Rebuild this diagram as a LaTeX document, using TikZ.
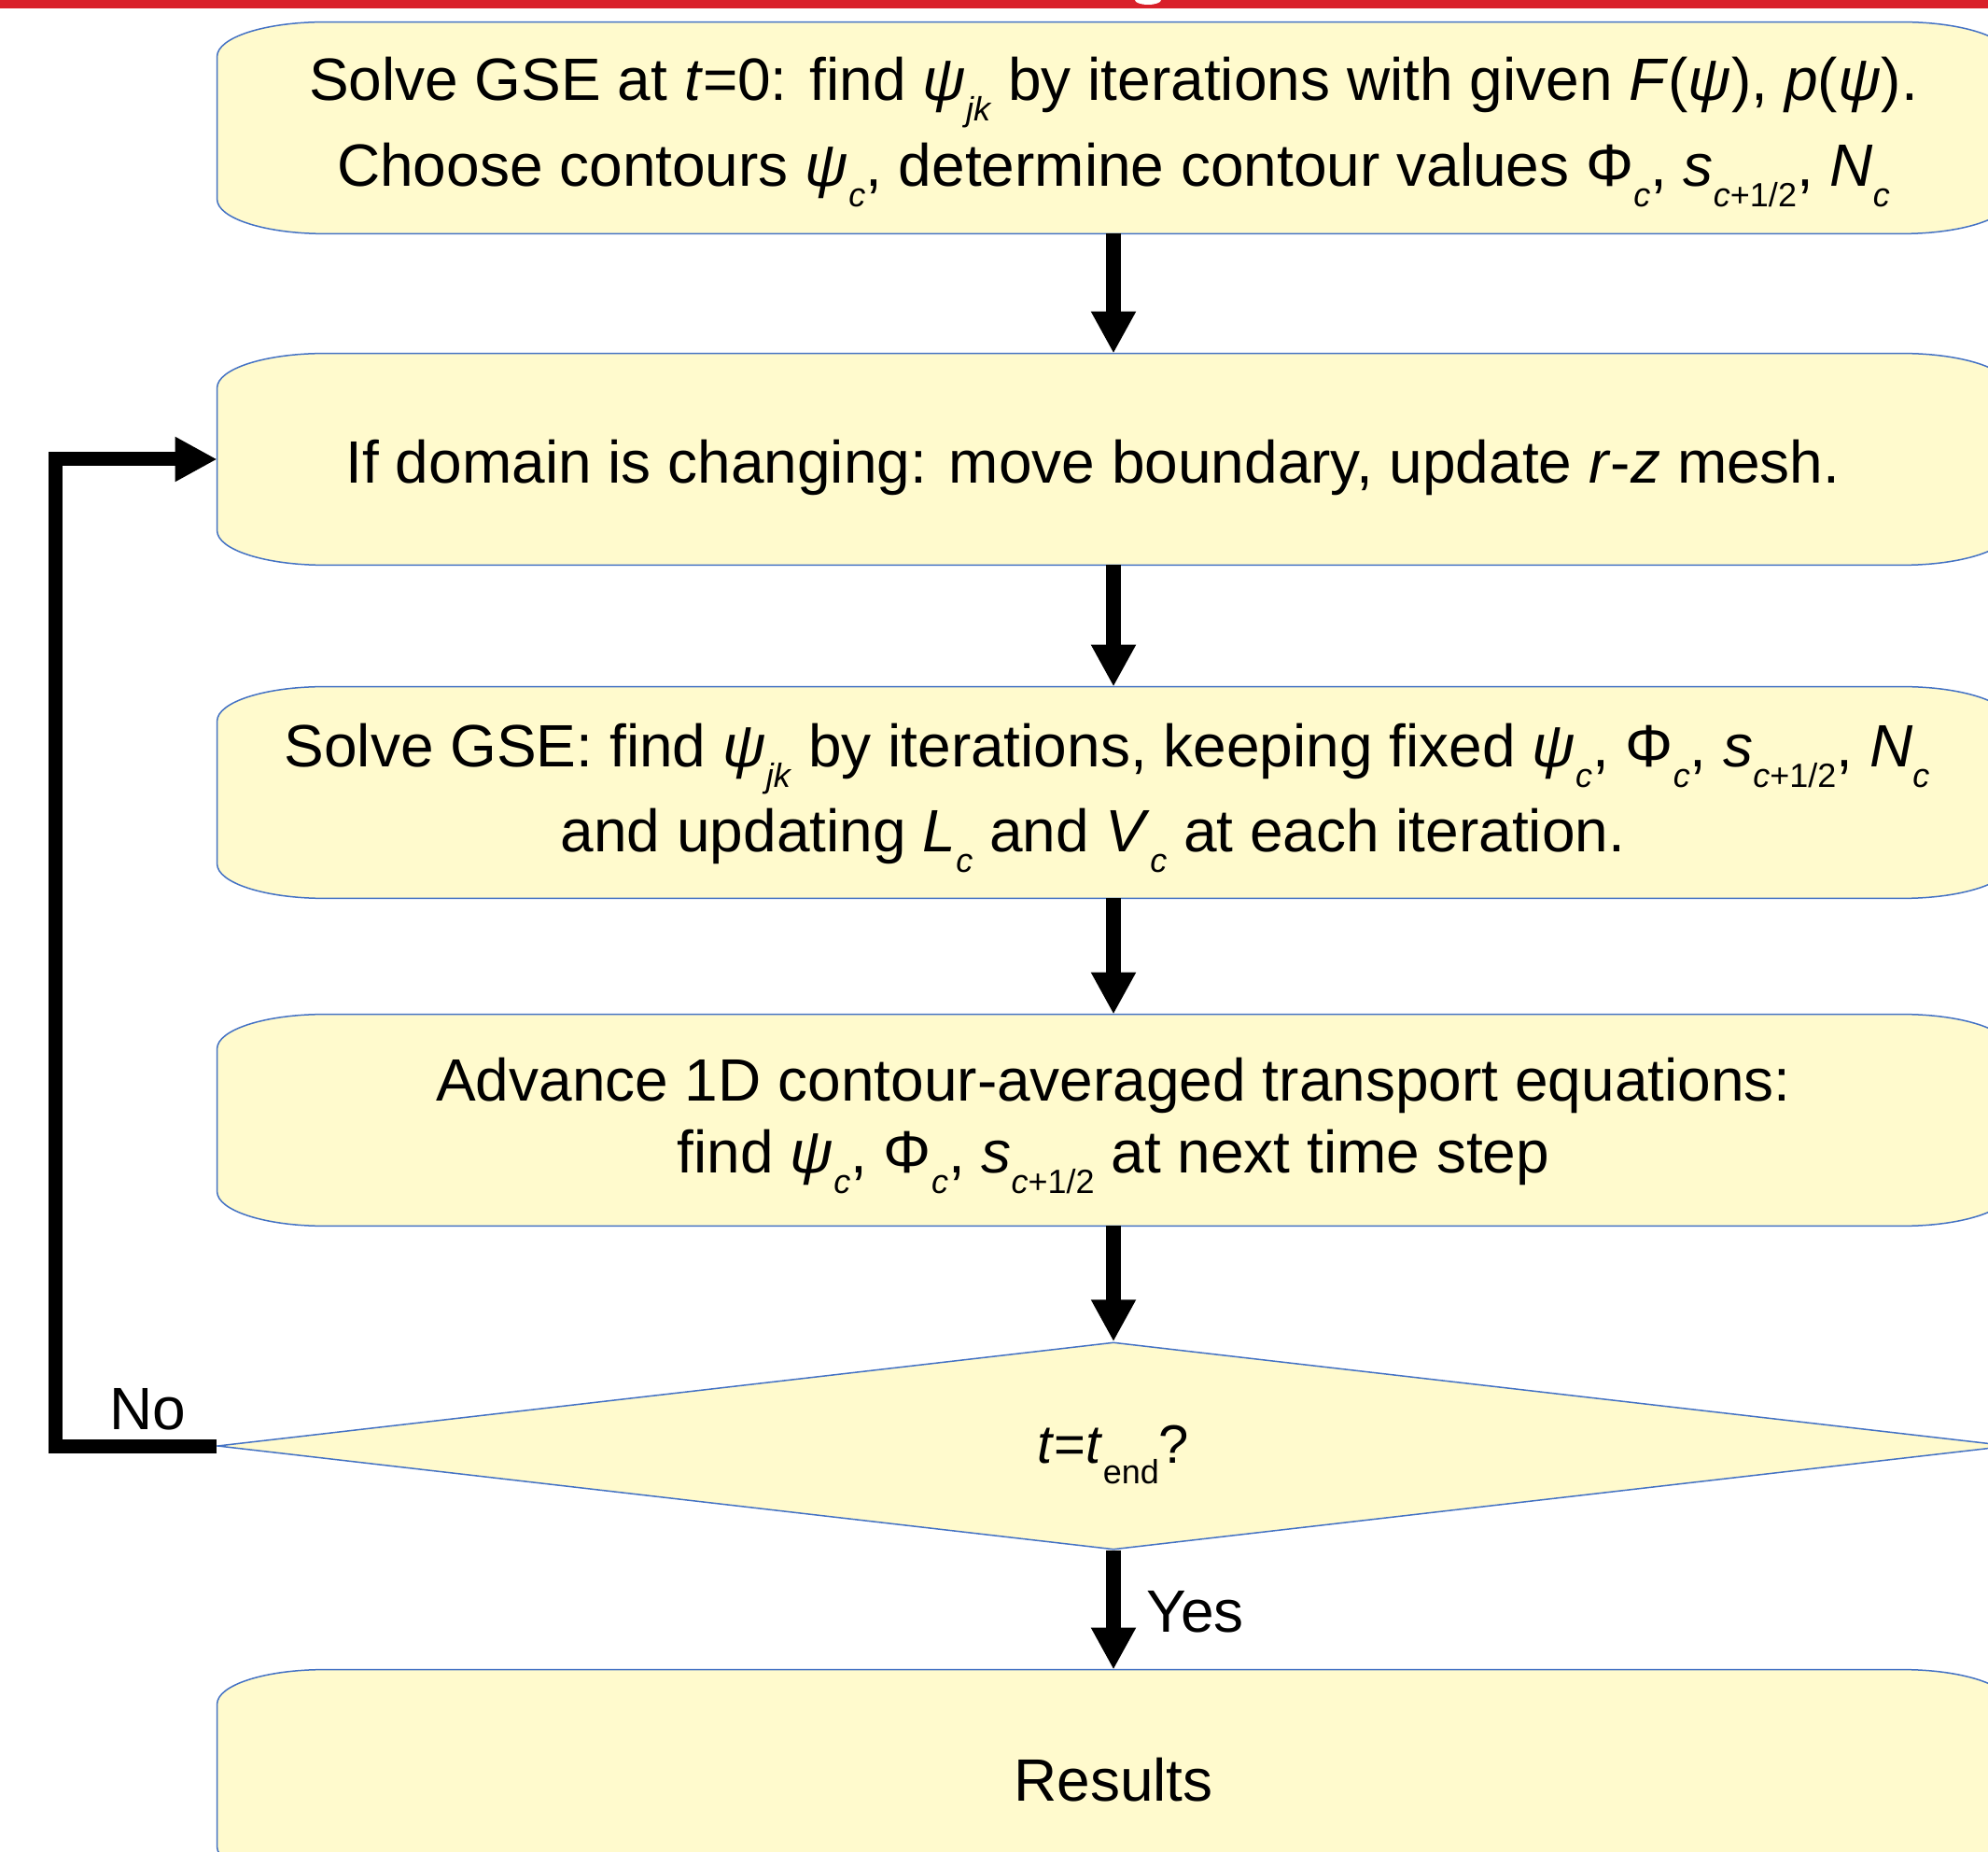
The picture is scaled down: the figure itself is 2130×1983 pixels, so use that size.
\documentclass[tikz,border=0pt]{standalone}
\usepackage{fontspec}
\setmainfont{Liberation Sans}
\usetikzlibrary{arrows.meta,calc,shapes.geometric}
\definecolor{boxfill}{RGB}{255,250,205}
\definecolor{boxline}{RGB}{68,114,196}
\definecolor{topred}{RGB}{217,32,42}
\newcommand\sbs[1]{\raisebox{-11pt}{\fontsize{18pt}{18pt}\selectfont #1}}
\newcommand\ebox[1]{%
  \path[eboxstyle] ($(#1.north west)+(115,0)$) -- ($(#1.north east)+(-115,0)$)
    arc[start angle=90,end angle=0,x radius=57.5pt,y radius=18.5pt]
    -- ($(#1.south east)+(0,37)$)
    arc[start angle=0,end angle=-90,x radius=57.5pt,y radius=18.5pt]
    -- ($(#1.south west)+(115,0)$)
    arc[start angle=270,end angle=180,x radius=57.5pt,y radius=18.5pt]
    -- ($(#1.north west)+(0,-37)$)
    arc[start angle=180,end angle=90,x radius=57.5pt,y radius=18.5pt] -- cycle;}
\tikzset{
  eboxstyle/.style={draw=boxline,fill=boxfill,line width=0.75pt},
  boxnode/.style={rectangle,inner sep=0pt,minimum width=960pt,minimum height=113pt},
  txt/.style={anchor=base,inner sep=0pt,font=\fontsize{32pt}{38pt}\selectfont},
  flowarrow/.style={line width=8pt,-{Triangle[length=22.5pt,width=22.5pt]}},
  looparrow/.style={line width=7.5pt,line join=miter,-{Triangle[length=22.5pt,width=22.5pt]}}
}
\begin{document}
\begin{tikzpicture}[x=0.5pt,y=0.5pt]
\useasboundingbox (0,0) rectangle (2130,1983);
\clip (0,0) rectangle (2130,1983);
\fill[white] (0,0) rectangle (2130,1983);
\fill[topred] (0,1974) rectangle (2130,1983);
\fill[white] (1230,1983) ellipse [x radius=7pt,y radius=2.5pt];

\node[boxnode] (b1) at (1193,1846) {};
\node[boxnode] (b2) at (1193,1491) {};
\node[boxnode] (b3) at (1193,1134) {};
\node[boxnode] (b4) at (1193,783) {};
\node[boxnode] (res) at (1193,81) {};
\ebox{b1}\ebox{b2}\ebox{b3}\ebox{b4}\ebox{res}
\node[diamond,draw=boxline,fill=boxfill,line width=0.75pt,inner sep=0pt,
  minimum width=960pt,minimum height=111pt] (d) at (1193,434) {};

\node[txt] (t1a) at (1193,1875) {Solve GSE at \textit{t}=0: find \textit{ψ}\sbs{\textit{jk}} by iterations with given \textit{F}(\textit{ψ}), \textit{p}(\textit{ψ}).};
\node[txt] (t1b) at (1193,1783) {Choose contours \textit{ψ}\sbs{\textit{c}}, determine contour values Φ\sbs{\textit{c}}, \textit{s}\sbs{\textit{c}+1/2}, \textit{N}\sbs{\textit{c}}};
\node[txt] (t2) at (1171,1465) {If domain is changing: move boundary, update \textit{r}-\textit{z} mesh.};
\node[txt] (t3a) at (1186,1161) {Solve GSE: find \textit{ψ}\sbs{\textit{jk}} by iterations, keeping fixed \textit{ψ}\sbs{\textit{c}}, Φ\sbs{\textit{c}}, \textit{s}\sbs{\textit{c}+1/2}, \textit{N}\sbs{\textit{c}}};
\node[txt] (t3b) at (1171,1070) {and updating \textit{L}\sbs{\textit{c}} and \textit{V}\sbs{\textit{c}} at each iteration.};
\node[txt] (t4a) at (1193,804) {Advance 1D contour-averaged transport equations:};
\node[txt] (t4b) at (1193,726) {find \textit{ψ}\sbs{\textit{c}}, Φ\sbs{\textit{c}}, \textit{s}\sbs{\textit{c}+1/2} at next time step};
\node[txt,font=\fontsize{29pt}{35pt}\selectfont] (td) at (1193,416) {\textit{t}=\textit{t}\sbs{end}?};
\node[txt] (tr) at (1193,54) {Results};
\node[txt] (no) at (158,452) {No};
\node[txt,anchor=base west] (yes) at (1228,235) {Yes};

\draw[flowarrow] (b1.south) -- (b2.north);
\draw[flowarrow] (b2.south) -- (b3.north);
\draw[flowarrow] (b3.south) -- (b4.north);
\draw[flowarrow] (b4.south) -- (d.north);
\draw[flowarrow] (d.south) -- (res.north);
\coordinate (lp) at (59.5,434);
\draw[looparrow] (d.west) -- (lp) |- (b2.west);
\end{tikzpicture}
\end{document}
